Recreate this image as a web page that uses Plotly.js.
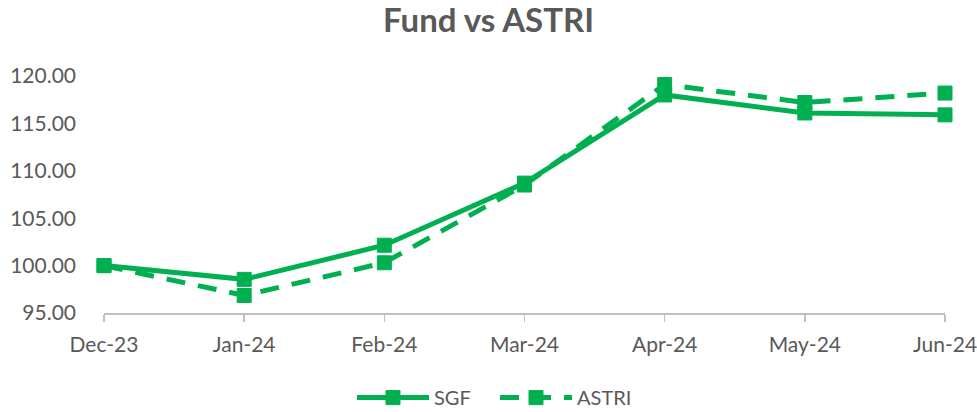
<!DOCTYPE html>
<html>
<head>
<meta charset="utf-8">
<script src="https://cdn.plot.ly/plotly-3.0.1.min.js"></script>
<style>html,body{margin:0;padding:0;background:#fff;}#chart{width:977px;height:412px;}</style>
</head>
<body>
<div id="chart"></div>
<script>
const categories = ["Dec-23", "Jan-24", "Feb-24", "Mar-24", "Apr-24", "May-24", "Jun-24"];
const sgfValues = [100.0, 98.55, 102.15, 108.7, 118.0, 116.1, 115.9];
const astriValues = [100.0, 96.85, 100.3, 108.5, 119.1, 117.2, 118.2];
const yTickVals = [95, 100, 105, 110, 115, 120];

const green = "#00B050";
const grey = "#595959";
const fontFam = "Lato, 'Open Sans', sans-serif";

const traces = [
  {
    x: categories, y: sgfValues, name: "SGF", type: "scatter", mode: "lines+markers",
    line: {color: green, width: 5},
    marker: {symbol: "square", size: 14, color: green, line: {color: green, width: 1}},
    cliponaxis: false
  },
  {
    x: categories, y: astriValues, name: "ASTRI", type: "scatter", mode: "lines+markers",
    line: {color: green, width: 5, dash: "19px,13px"},
    marker: {symbol: "square", size: 14, color: green, line: {color: green, width: 1}},
    cliponaxis: false
  }
];

const layout = {
  width: 977, height: 412,
  margin: {l: 104, r: 32, t: 76, b: 99, autoexpand: false},
  paper_bgcolor: "#fff", plot_bgcolor: "#fff",
  font: {family: fontFam, size: 21, color: grey},
  title: {text: "<b>Fund vs ASTRI</b>", x: 0.5, xanchor: "center", y: 0.95, yanchor: "middle",
          font: {family: fontFam, size: 33, color: grey}},
  xaxis: {
    type: "category", range: [0, 6], showgrid: false, zeroline: false, automargin: false,
    showline: true, linecolor: "#BFBFBF", linewidth: 1.5,
    ticks: "outside", ticklen: 7, tickcolor: "#BFBFBF", tickwidth: 1.5,
    ticklabelstandoff: 5,
    tickfont: {family: fontFam, size: 21, color: grey}
  },
  yaxis: {
    range: [95, 120], tickvals: yTickVals, tickformat: ".2f", automargin: false,
    showgrid: false, zeroline: false, showline: false, ticks: "",
    ticklabelstandoff: 27,
    tickfont: {family: fontFam, size: 21, color: grey}
  },
  showlegend: true,
  legend: {orientation: "h", x: 352 / 977, xanchor: "left", xref: "container",
           y: 0.035, yanchor: "middle", yref: "container",
           font: {family: fontFam, size: 20, color: grey},
           itemwidth: 72, entrywidth: 56, tracegroupgap: 0}
};

Plotly.newPlot("chart", traces, layout, {displayModeBar: false, staticPlot: true});
</script>
</body>
</html>
